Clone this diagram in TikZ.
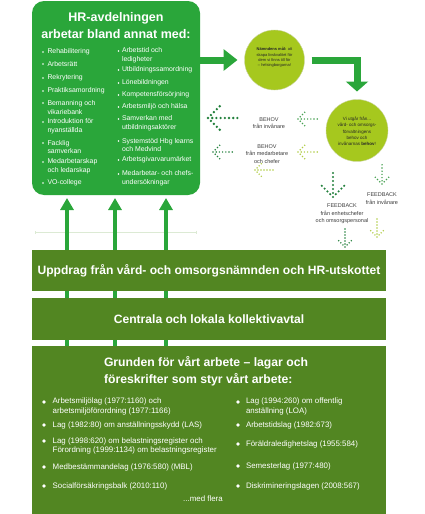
\documentclass[tikz,border=0pt]{standalone}
\usepackage{fontspec}
\setmainfont{Liberation Sans}
\usetikzlibrary{arrows.meta}
\definecolor{hrgreen}{RGB}{42,166,58}
\definecolor{olivegr}{RGB}{82,134,34}
\definecolor{limegr}{RGB}{166,200,30}
\definecolor{dgreen}{RGB}{34,128,60}
\definecolor{mgreen}{RGB}{70,160,80}
\definecolor{lgreen}{RGB}{176,204,70}
\definecolor{txtgray}{RGB}{60,60,60}
\definecolor{thinline}{RGB}{220,234,212}
\newcommand{\dotarr}[7]{%
  \begin{scope}[shift={#1},rotate=#2]
    \foreach \k in {0,...,#3} {\fill[#5] (\k*#7,0) circle (#6pt);}
    \foreach \k in {1,...,#4} {\fill[#5] (\k*#7*0.7,\k*#7*0.7) circle (#6pt);
      \fill[#5] (\k*#7*0.7,-\k*#7*0.7) circle (#6pt);}
  \end{scope}}
\newcommand{\hrbul}[2]{\fill[white] (#1,#2) circle (0.9pt);}
\newcommand{\lawbul}[2]{\fill[white] (#1,#2) circle (1.9pt);}
\begin{document}
\begin{tikzpicture}[x=1pt,y=-1pt,
  every node/.style={inner sep=0pt, outer sep=0pt},
  bigarrow/.style={hrgreen, line width=7pt, -{Triangle[width=21pt,length=14pt]}},
  uparrow/.style={hrgreen, line width=4.5pt, -{Triangle[width=13pt,length=12pt]}},
  band/.style={fill=olivegr, text=white, font=\bfseries\fontsize{12.1}{15}\selectfont, minimum width=354pt, anchor=north west},
  hritem/.style={text=white, font=\fontsize{6.9}{8.8}\selectfont, align=left, anchor=west},
  lawitem/.style={text=white, font=\fontsize{7.9}{9.8}\selectfont, align=left, anchor=west},
  note/.style={text=txtgray, font=\fontsize{5.5}{7.4}\selectfont, align=center},
  goal/.style={circle, fill=limegr, draw=limegr!60!gray!50, line width=0.4pt}
]
\useasboundingbox (0,0) rectangle (425,514);

% HR box
\node[fill=hrgreen, rounded corners=12pt, minimum width=168pt, minimum height=194pt, anchor=north west] (hr) at (32,1) {};
\node[text=white, font=\bfseries\fontsize{12.5}{17}\selectfont, align=center] (hrtitle) at (116,25.5) {HR-avdelningen\\arbetar bland annat med:};

% left column
\hrbul{43}{52}  \node[hritem] (l1) at (47.5,52) {Rehabilitering};
\hrbul{43}{64}  \node[hritem] (l2) at (47.5,64) {Arbetsrätt};
\hrbul{43}{78}  \node[hritem] (l3) at (47.5,78) {Rekrytering};
\hrbul{43}{91}  \node[hritem] (l4) at (47.5,91) {Praktiksamordning};
\hrbul{43}{103} \node[hritem] (l5) at (47.5,107.5) {Bemanning och\\vikariebank};
\hrbul{43}{122} \node[hritem] (l6) at (47.5,126.5) {Introduktion för\\nyanställda};
\hrbul{43}{143} \node[hritem] (l7) at (47.5,147) {Facklig\\samverkan};
\hrbul{43}{162} \node[hritem] (l8) at (47.5,166) {Medarbetarskap\\och ledarskap};
\hrbul{43}{183} \node[hritem] (l9) at (47.5,183) {VO-college};

% right column
\hrbul{118.5}{51}  \node[hritem] (r1) at (122,55.5) {Arbetstid och\\ledigheter};
\hrbul{118.5}{70}  \node[hritem] (r2) at (122,70) {Utbildningssamordning};
\hrbul{118.5}{83}  \node[hritem] (r3) at (122,83) {Lönebildningen};
\hrbul{118.5}{95}  \node[hritem] (r4) at (122,95) {Kompetensförsörjning};
\hrbul{118.5}{107} \node[hritem] (r5) at (122,107) {Arbetsmiljö och hälsa};
\hrbul{118.5}{119} \node[hritem] (r6) at (122,123) {Samverkan med\\utbildningsaktörer};
\hrbul{118.5}{141} \node[hritem] (r7) at (122,145) {Systemstöd Hbg learns\\och Medvind};
\hrbul{118.5}{160} \node[hritem] (r8) at (122,160) {Arbetsgivarvarumärket};
\hrbul{118.5}{174} \node[hritem] (r9) at (122,178.5) {Medarbetar- och chefs-\\undersökningar};

% goal circles
\node[goal, minimum size=60pt] (c1) at (274.5,60) {};
\node[text=black!85, font=\fontsize{4}{5.3}\selectfont, align=center] (c1t) at (274.5,57.5) {\textbf{Nämndens mål:} att\\skapa livskvalitet för\\dem vi finns till för\\– helsingborgarna!};
\node[goal, minimum size=62pt] (c2) at (357,130.5) {};
\node[text=black!85, font=\fontsize{4.5}{6.3}\selectfont, align=center] (c2t) at (357,131.5) {Vi utgår från...\\vård- och omsorgs-\\förvaltningens\\behov och\\invånarnas \textbf{behov}!};

% big arrows
\draw[bigarrow, shorten >=7pt] (hr.east |- c1.west) -- (c1.west);
\draw[hrgreen, line width=7pt, shorten <=7pt, shorten >=8pt, -{Triangle[width=22pt,length=10pt]}] (c1.east) -- (c1.east -| c2.north) -- (c2.north);

% notes
\node[note] (behov1) at (269,123) {BEHOV\\från invånare};
\node[note] (behov2) at (267,154) {BEHOV\\från medarbetare\\och chefer};
\node[note] (fb1) at (382,198.5) {FEEDBACK\\från invånare};
\node[note] (fb2) at (342,214) {FEEDBACK\\från enhetschefer\\och omsorgspersonal};

% dotted arrows
\dotarr{(208,118)}{0}{7}{4}{dgreen}{1.3}{4.2}
\dotarr{(298,119)}{0}{6}{3}{mgreen}{0.8}{3.2}
\dotarr{(213,152)}{0}{6}{3}{dgreen}{0.8}{3.2}
\dotarr{(298,152)}{0}{6}{3}{lgreen}{0.8}{3.2}
\dotarr{(255,170)}{0}{6}{3}{lgreen}{0.8}{3.0}
\dotarr{(333,197)}{90}{6}{4}{dgreen}{1.2}{4.0}
\dotarr{(382,184)}{90}{6}{3}{mgreen}{0.8}{3.2}
\dotarr{(377,237)}{90}{6}{3}{lgreen}{0.8}{3.0}
\dotarr{(345,247)}{90}{6}{3}{dgreen}{0.8}{3.0}

% thin line
\coordinate (tl1) at (35,232);
\coordinate (tl2) at (197,232);
\draw[thinline, line width=0.6pt, {Bar[width=3pt]}-{Bar[width=3pt]}] (tl1) -- (tl2);

% vertical arrows
\coordinate (v1) at (67,346);
\coordinate (v2) at (115,346);
\coordinate (v3) at (166,346);
\draw[uparrow, shorten >=3pt] (v1) -- (v1 |- hr.south);
\draw[uparrow, shorten >=3pt] (v2) -- (v2 |- hr.south);
\draw[uparrow, shorten >=3pt] (v3) -- (v3 |- hr.south);

% bands
\node[band, minimum height=41pt] (b1) at (32,250) {Uppdrag från vård- och omsorgsnämnden och HR-utskottet};
\node[band, minimum height=42pt] (b2) at (32,298) {Centrala och lokala kollektivavtal};
\node[band, minimum height=168pt] (b3) at (32,346) {};
\node[text=white, font=\bfseries\fontsize{12.2}{17}\selectfont, align=left, anchor=north west] (b3t) at (104,356) {Grunden för vårt arbete – lagar och\\föreskrifter som styr vårt arbete:};

% laws left
\lawbul{44}{402} \node[lawitem] (a1) at (52.7,406.5) {Arbetsmiljölag (1977:1160) och\\arbetsmiljöförordning (1977:1166)};
\lawbul{44}{425} \node[lawitem] (a2) at (52.7,425) {Lag (1982:80) om anställningsskydd (LAS)};
\lawbul{44}{441} \node[lawitem] (a3) at (52.7,446) {Lag (1998:620) om belastningsregister och\\Förordning (1999:1134) om belastningsregister};
\lawbul{44}{467} \node[lawitem] (a4) at (52.7,467) {Medbestämmandelag (1976:580) (MBL)};
\lawbul{44}{486} \node[lawitem] (a5) at (52.7,486) {Socialförsäkringsbalk (2010:110)};
% laws right
\lawbul{238}{402} \node[lawitem] (e1) at (246,406.5) {Lag (1994:260) om offentlig\\anställning (LOA)};
\lawbul{238}{425} \node[lawitem] (e2) at (246,425) {Arbetstidslag (1982:673)};
\lawbul{238}{444} \node[lawitem] (e3) at (246,444) {Föräldraledighetslag (1955:584)};
\lawbul{238}{466} \node[lawitem] (e4) at (246,466) {Semesterlag (1977:480)};
\lawbul{238}{486} \node[lawitem] (e5) at (246,486) {Diskrimineringslagen (2008:567)};
\node[text=white, font=\fontsize{7.9}{9.8}\selectfont] (mf) at (203,499) {...med flera};
\end{tikzpicture}
\end{document}
